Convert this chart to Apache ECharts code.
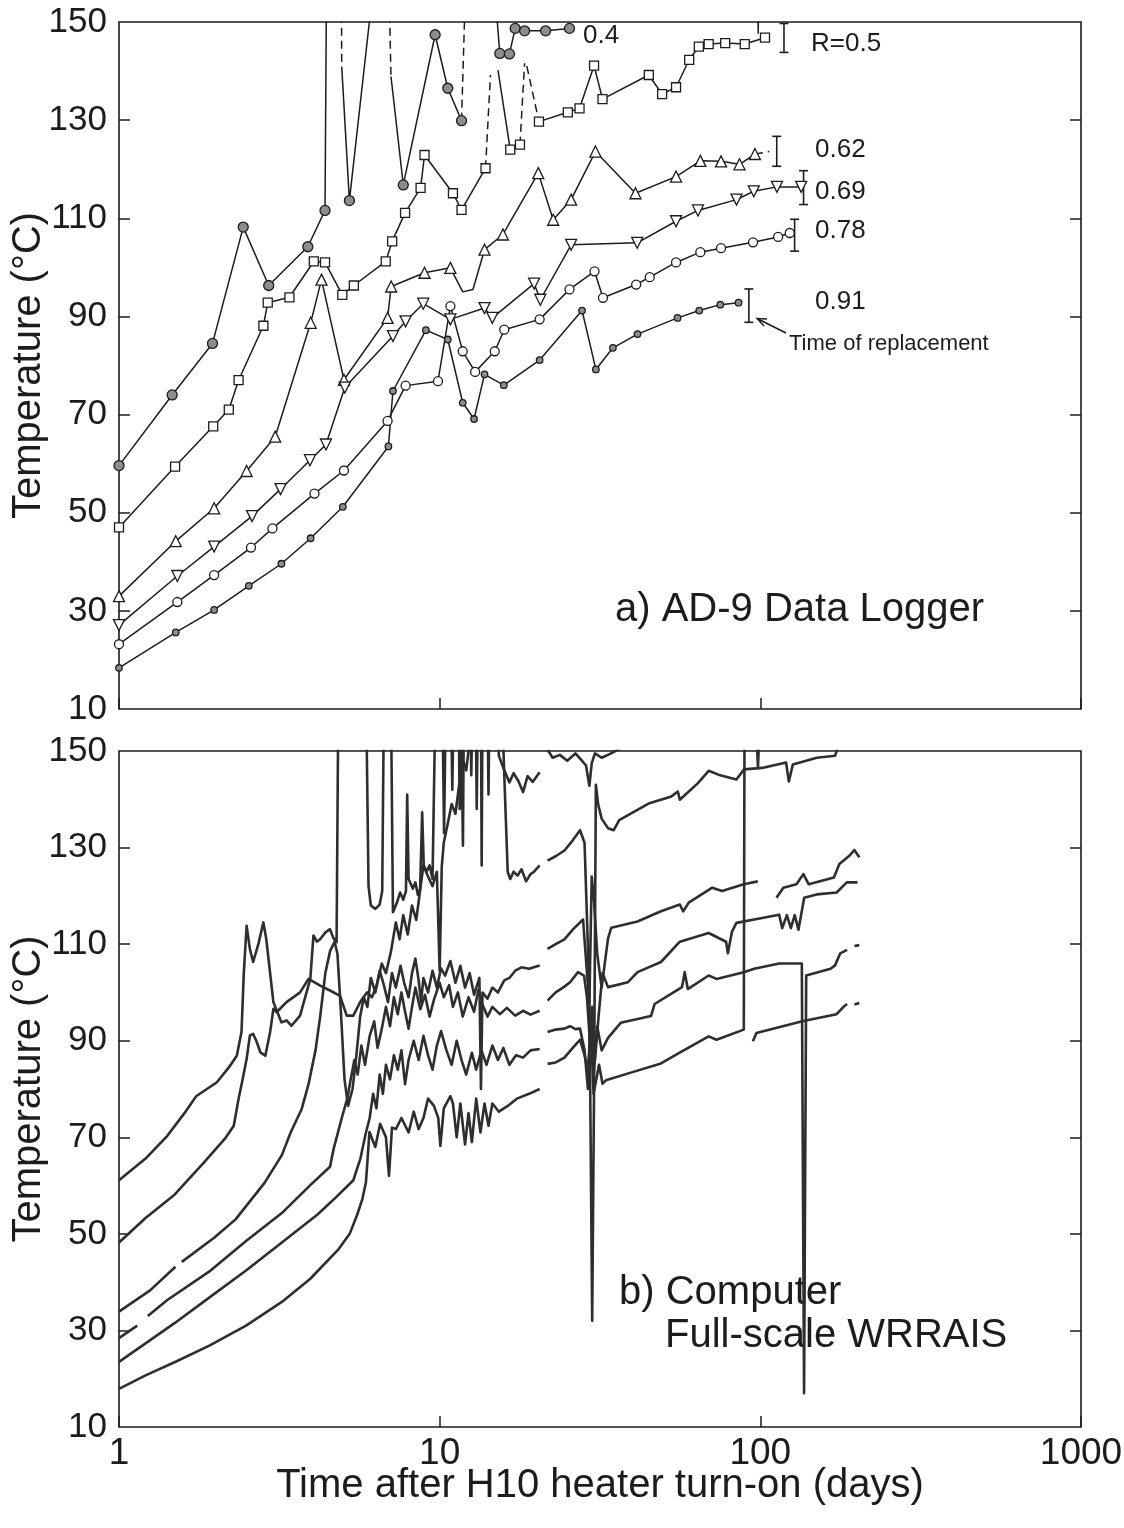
<!DOCTYPE html>
<html>
<head>
<meta charset="utf-8">
<script src="https://cdn.jsdelivr.net/npm/echarts@6/dist/echarts.min.js"></script>
<style>
  html, body { margin: 0; padding: 0; background: #fff; }
  #chart { width: 1124px; height: 1528px; }
</style>
</head>
<body>
<div id="chart"></div>
<script>
// ---------- axis ticks ----------
const tempLabels = [10, 30, 50, 70, 90, 110, 130, 150];
const tempTicks = [30, 50, 70, 90, 110, 130];

// ---------- (a) AD-9 data logger: readings [days, °C] ----------
const r04Logger = [[1,59.6],[1.465,74.0],[1.957,84.5],[2.44,108.2],[2.93,96.3],[3.88,104.2],[4.39,111.6],[5.23,113.6],[7.7,116.8],[9.68,147.4],[10.6,136.5],[11.7,129.9],[15.4,143.6],[16.5,143.5],[17.2,148.7],[18.4,148.2],[21.4,148.2],[25.4,148.7]];
// off-scale excursions and pen lifts of the same trace ('-' = break)
const r04LoggerBreaks = [[4.45,170],[4.7,'-'],[4.95,140.9],[6.53,170],[6.7,'-'],[7.05,138.9],[11.9,'-'],[14.3,170],[26,'-'],[98,160],[98.5,147.6],[99,160]];
const r04LoggerDashed = [[4.93,170],[4.95,140.9],[5,'-'],[6.88,170],[7.05,138.9],[7.2,'-'],[11.7,129.9],[12.2,170]];

const r05Logger = [[1,47.0],[1.496,59.4],[1.967,67.6],[2.2,71.0],[2.36,77.0],[2.82,88.1],[2.91,92.8],[3.4,93.9],[4.05,101.2],[4.39,101.0],[4.97,94.4],[5.4,96.3],[6.79,101.2],[7.11,105.3],[7.8,111.1],[8.72,116.2],[8.97,122.9],[11.0,115.1],[11.7,111.7],[13.9,120.2],[16.6,124.0],[17.8,125.0],[20.4,129.7],[25.1,131.6],[27.3,132.4],[30.3,141.1],[32.2,134.3],[44.9,139.2],[49.4,135.3],[54.6,136.7],[60.0,142.3],[64.3,145.0],[69.0,145.5],[77.7,145.7],[89.4,145.5],[103.4,146.8]];
const r05LoggerBreaks = [[14.6,'-'],[15.2,140.2],[19,'-']];
const r05LoggerDashed = [[13.9,120.2],[14.4,139.2],[14.8,'-'],[17.8,125.0],[18.4,141.6],[18.55,'-'],[18.7,141.0],[20.4,129.7]];

const r062Logger = [[1,33.0],[1.503,44.2],[1.98,50.9],[2.5,58.5],[3.07,65.5],[3.96,88.7],[4.28,97.5],[5.03,77.1],[6.88,89.7],[7.06,96.1],[8.97,98.9],[10.8,99.9],[13.8,103.6],[15.75,106.7],[20.3,119.2],[22.6,109.7],[25.7,113.8],[30.6,123.6],[40.8,115.1],[54.6,118.5],[65.0,121.7],[75.4,121.6],[86.1,121.0],[96.2,123.1]];
const r062LoggerBreaks = [[11.8,95.0],[12.7,95.5]];
const r062LoggerDashed = [[96.2,123.1],[106.6,123.6]];

const r069Logger = [[1,27.1],[1.52,37.1],[1.98,43.1],[2.6,49.3],[3.19,54.8],[3.94,60.7],[4.42,63.9],[5.06,75.5],[7.15,86.0],[7.83,89.0],[8.89,92.6],[10.8,89.4],[13.8,91.7],[14.6,89.7],[19.7,96.7],[20.6,93.4],[25.7,104.6],[41.3,105.0],[54.6,109.4],[63.9,111.6],[84.3,113.8],[95.4,115.5],[112.7,116.4],[134.1,116.4]];

const r078Logger = [[1,23.2],[1.52,31.8],[1.98,37.3],[2.58,42.9],[3.01,46.8],[4.07,53.9],[5.03,58.6],[6.88,68.7],[7.83,75.9],[9.88,76.8],[10.8,92.1],[11.8,82.9],[12.9,78.7],[14.85,82.9],[15.9,87.3],[20.5,89.4],[25.4,95.5],[30.4,99.2],[32.3,93.8],[41.0,96.5],[45.2,98.0],[54.6,101.0],[65.0,103.1],[75.4,103.9],[94.9,105.1],[113.6,106.2],[123.5,107.0]];

const r091Logger = [[1,18.4],[1.503,25.6],[1.98,30.2],[2.54,35.1],[3.21,39.6],[3.96,44.8],[4.99,51.2],[6.92,63.5],[7.15,74.8],[9.06,87.2],[10.6,85.3],[11.8,72.4],[12.8,69.1],[13.8,78.2],[15.85,76.0],[20.5,81.1],[27.8,91.2],[30.7,79.2],[34.7,83.6],[41.4,86.4],[55.2,89.7],[64.5,91.2],[75.0,92.4],[85.5,92.8]];

// time of replacement: [days, low °C, high °C]
const replacementBars = [[118.5,143.8,149.7],[112.5,120.6,126.7],[136.4,112.8,119.7],[127.9,103.3,109.8],[92.1,88.8,95.6]];

// ---------- (b) computer, full-scale WRRAIS: [days, °C] ----------
const r04Computer = [[1,61.1],[1.21,65.6],[1.415,70.3],[1.6,75],[1.74,78.5],[2.02,81.4],[2.22,84.8],[2.33,86.9],[2.41,91.8],[2.45,104],[2.5,113.8],[2.56,109],[2.62,106.3],[2.72,110],[2.82,114.5],[2.88,111],[3.03,98],[3.21,93.8],[3.33,94.2],[3.45,93.1],[3.67,95.2],[3.95,102.8],[4.04,111.8],[4.14,110.5],[4.24,111],[4.4,112.4],[4.55,113.1],[4.66,111.3],[4.77,110.4],[4.83,160],[5.9,160],[6.0,122],[6.1,118],[6.3,117.3],[6.5,118.2],[6.62,121],[6.7,160],[7.05,160],[7.15,116.6],[7.35,118.5],[7.53,120.7],[7.7,119.2],[7.85,121],[7.92,141],[8.0,123.5],[8.25,121.5],[8.4,122.8],[8.55,120.2],[8.69,121.4],[8.82,137.3],[8.92,126.3],[9.1,125],[9.3,126.3],[9.5,123.5],[9.7,160],[10.2,160],[10.32,133],[10.45,160],[10.85,160],[10.95,142],[11.05,160],[11.45,160],[11.55,138],[11.65,160],[11.75,160],[11.82,130.4],[11.9,160],[12.45,160],[12.55,145],[12.65,160],[12.95,160],[13.05,138],[13.15,160],[13.45,160],[13.52,126.3],[13.6,160],[14.1,160],[14.2,141],[14.3,160],[15.1,160],[15.3,149],[15.9,146],[16.5,143.5],[17.0,145.4],[17.6,143.8],[18.2,141.5],[18.8,144.8],[19.5,143.6],[20.5,145.6],[21.0,'-'],[21.7,150.3],[22.5,148.6],[23.7,149.2],[25,148],[26.5,149.5],[27.6,148.2],[28.6,147],[29.3,142.8],[29.8,147.5],[30.5,149.5],[32,148.6],[34,149.4],[36.5,150.5],[40,156],[97,156],[98.3,146.5],[99.6,156],[110,158]];

const r05Computer = [[1,48.2],[1.21,53.3],[1.49,58.1],[1.83,64.6],[2.14,69.7],[2.28,72.4],[2.36,78],[2.43,82],[2.5,86.2],[2.56,91.1],[2.62,91.4],[2.68,90],[2.76,87.6],[2.86,86.9],[2.96,91.8],[3.03,96.6],[3.1,95.9],[3.33,98],[3.67,100],[3.9,102.8],[4.24,101.4],[4.55,100.4],[4.89,99.3],[5.13,95.2],[5.38,95.2],[5.65,98],[5.93,100],[6.15,99],[6.36,101.4],[6.6,106],[6.8,104],[7.05,108.5],[7.3,114.5],[7.5,111],[7.7,116],[7.95,112],[8.2,118],[8.45,115],[8.7,121.4],[8.9,126.3],[9.2,124],[9.5,122],[9.8,125],[10.0,104.5],[10.15,126],[10.3,131],[10.6,135],[10.9,139],[11.2,137],[11.5,143],[11.8,148.3],[12.1,146],[12.4,152],[13.0,156],[15.7,156],[16.0,140],[16.3,125],[16.6,123.5],[17.0,125],[17.5,124.2],[18.0,125.5],[18.6,123],[19.2,124.5],[19.7,125],[20.5,126.3],[21.0,'-'],[21.7,127.3],[23,128.2],[24.5,129.4],[26,131.5],[27.4,133.6],[28.3,131],[29.3,100],[29.9,32],[30.3,80],[30.7,143],[31.2,139],[32,136],[33.5,134],[34.9,133.6],[36.3,135.7],[45.1,139.2],[52.8,140.6],[55.3,141.6],[56.1,139.9],[64,143.4],[69,145.9],[74,145.1],[84.2,144.1],[89,146.2],[101.3,146.5],[120.3,147.6],[122.7,143.7],[126.3,147.2],[150,148.6],[171,149],[177,152]];

const r062Computer = [[1,33.9],[1.25,38.3],[1.5,43.2],[1.53,'-'],[1.57,44.2],[1.98,49.2],[2.31,53],[2.84,60.5],[3.22,66.3],[3.43,71],[3.71,75.8],[3.9,81],[4.1,88],[4.24,95],[4.4,104],[4.55,108.5],[4.7,110.5],[4.8,108],[4.92,96],[5.05,82],[5.18,76.5],[5.35,80],[5.5,87],[5.65,95],[5.8,99],[5.95,97],[6.1,103],[6.3,100],[6.5,104.5],[6.7,101.5],[6.9,98],[7.1,104],[7.3,101],[7.55,105.5],[7.75,102],[8.0,99],[8.2,104],[8.4,107],[8.6,102.5],[8.75,98],[8.9,103],[9.2,100],[9.5,104.5],[9.8,101],[10.1,105],[10.4,103.5],[10.8,106.5],[11.2,102],[11.6,105.5],[12.0,101],[12.4,104],[12.8,99.5],[13.3,103],[13.45,80],[13.6,100],[14.1,98.7],[14.6,101],[15.2,100],[15.9,102.5],[16.5,103],[17.2,104.5],[18,105.2],[19,104.9],[20.5,105.6],[21,'-'],[21.7,109],[23,110],[24.5,111],[26,113],[28,115.1],[28.8,104],[29.3,98],[29.8,124],[30.3,119],[31,108],[32,101],[33.5,111.2],[34.3,113.4],[41.4,114.7],[49,116.8],[56.1,118.2],[57.5,116.8],[59.8,118.6],[70.8,121.7],[76,121],[88.8,122.4],[98.2,123],[105,'-'],[112.3,119.6],[118,121.7],[129.6,122.4],[136.2,124.5],[141.6,122.4],[169.6,123.8],[176.4,126.6],[189.4,128.3],[196.4,129.5],[203.6,128]];

const r069Computer = [[1,28.4],[1.14,31],[1.18,'-'],[1.23,33],[1.415,36.3],[1.93,42.4],[2.49,48.5],[3.22,54.3],[3.95,60.1],[4.55,63.9],[4.67,67.6],[4.97,74.4],[5.15,78],[5.28,82],[5.42,86],[5.55,83],[5.7,89],[5.85,85],[6.05,91],[6.25,94],[6.4,88.5],[6.6,92.5],[6.8,97],[7.0,93],[7.2,99],[7.4,95.5],[7.6,100],[7.8,96],[8.0,92.5],[8.2,97],[8.4,101],[8.7,96.5],[9.0,99.5],[9.3,95],[9.6,98.5],[10.0,102],[10.3,99],[10.7,101.5],[11.0,97],[11.4,100],[11.8,95],[12.3,99],[12.8,96],[13.2,100.5],[13.6,97.5],[14.1,95],[14.6,97],[15.4,95.5],[16.2,96.8],[17.2,95.2],[18.2,96.2],[19.2,95.4],[20.5,96.2],[21,'-'],[21.7,98.3],[23,100],[24.5,101.2],[25.5,102.1],[27,104.2],[28.2,103.5],[28.8,99],[29.4,90],[29.9,97],[30.5,86],[31.3,95],[32.2,104],[33.5,101.1],[38.6,102.1],[41.4,104.2],[49,106.3],[56.1,110.5],[69,112.3],[78.2,110.5],[79.2,108.1],[81.6,112.6],[84.2,114.4],[101.3,115.4],[114.5,116.1],[117,113.3],[121,116],[124.5,113.3],[128,116],[131.5,113],[137,119.6],[150,120.3],[173,120.7],[186,122.8],[201,122.8]];

const r078Computer = [[1,23.5],[1.49,31.5],[1.93,37],[2.49,42.4],[3.22,48.2],[4.16,54],[4.72,57.4],[5.38,61.1],[5.66,65.6],[5.89,71],[6.05,74],[6.2,79],[6.35,76],[6.5,83],[6.65,79],[6.8,85],[7.0,82],[7.2,87],[7.4,84],[7.6,88],[7.8,81],[8.0,86],[8.3,90],[8.6,86],[8.9,91],[9.2,87],[9.5,84],[9.8,89],[10.1,92],[10.5,88],[10.9,85],[11.3,90],[11.7,86],[12.1,83],[12.6,87.5],[13.0,84],[13.5,88],[14,85],[14.6,89],[15.2,86],[15.8,88.5],[16.5,85],[17.3,87],[18.2,86.5],[19.2,88],[20.5,88.3],[21,'-'],[21.7,91.8],[23,92.3],[24.5,92.5],[25.5,93],[26.5,92.4],[27.4,92.5],[28.3,88],[29.0,80],[29.6,95],[30.2,83],[31,93],[32,88],[33.5,90.6],[36.7,93.7],[45.6,95.1],[46.8,97.6],[57,101.1],[58.1,104.2],[59.4,100.7],[69,103.5],[73,102.8],[88.8,104.2],[95.7,104.9],[114.5,106],[134.7,106],[136.2,106],[136.9,17],[139,103.5],[165.6,104.9],[171,105.6],[177.5,108.1],[186.5,108.8],[192,'-'],[196.5,109.6],[203.6,109.8]];

const r091Computer = [[1,17.9],[1.21,20.7],[1.49,23.4],[1.92,26.9],[2.49,31],[3.22,35.9],[3.95,40.7],[4.85,46.9],[5.24,50],[5.52,53.8],[5.74,57.2],[5.89,60.7],[5.97,66.2],[6.04,71.1],[6.3,68],[6.52,72.8],[6.8,70],[6.95,62],[7.1,72],[7.3,71.7],[7.6,74],[8.0,71],[8.3,75.3],[8.6,71.7],[8.9,74],[9.2,78],[9.6,76.5],[9.9,74],[10.05,68.2],[10.3,76],[10.8,78.5],[11.0,77],[11.3,70],[11.6,77],[12.0,68.5],[12.3,75],[12.6,69],[13.0,78],[13.4,71],[13.8,77],[14.2,72.4],[14.6,77],[15.3,75.3],[16.3,76.5],[17.4,78],[19.0,79],[20.5,80],[21,'-'],[21.7,85.2],[23,85.5],[24.5,86.5],[26,88.5],[27.4,90.2],[28.3,87],[29,84],[29.6,93],[30.2,79],[31.4,85],[32.2,81.1],[33.0,81.8],[40.4,83.6],[49,85.3],[55.5,87.4],[69,90.9],[73,90.2],[88.8,92.3],[89.3,160],[90,'-'],[94.8,89.9],[97.2,91.6],[136.2,94.1],[173,95.5],[183,97.2],[186.5,97.6],[192,'-'],[196.5,97.5],[203.6,97.8]];

// ---------- styling ----------
const FONT = '"Liberation Sans", Arial, sans-serif';
const INK = '#1c1c1c';

function mergePath(readings, breaks) {
  return readings.concat(breaks).sort((a, b) => a[0] - b[0]);
}

function loggerLine(data, dashed) {
  return {
    type: 'line', xAxisIndex: 0, yAxisIndex: 0, data: data,
    showSymbol: false, clip: true, connectNulls: false, silent: true,
    lineStyle: { color: INK, width: 1.5, type: dashed ? [8, 5] : 'solid' },
    z: 2
  };
}

function loggerMarks(data, symbol, size, fill, rotate) {
  return {
    type: 'scatter', xAxisIndex: 0, yAxisIndex: 0, data: data,
    symbol: symbol, symbolSize: size, symbolRotate: rotate || 0, silent: true,
    itemStyle: { color: fill, borderColor: INK, borderWidth: 1.3, opacity: 1 },
    z: 3
  };
}

function computerLine(data) {
  return {
    type: 'line', xAxisIndex: 1, yAxisIndex: 2, data: data,
    showSymbol: false, clip: true, connectNulls: false, silent: true,
    lineStyle: { color: '#2e2e2e', width: 2.6, join: 'round' },
    z: 2
  };
}

function dayAxis(gi, labelled) {
  return {
    gridIndex: gi, type: 'log', logBase: 10, min: 1, max: 1000,
    axisLine: { show: false },
    axisTick: { show: true, inside: true, length: 11, lineStyle: { color: INK, width: 1.5 } },
    axisLabel: {
      show: labelled, fontSize: 37, margin: 8, color: INK, fontFamily: FONT,
      formatter: v => String(Math.round(v))
    },
    splitLine: { show: false }, minorTick: { show: false },
    name: labelled ? 'Time after H10 heater turn-on (days)' : '',
    nameLocation: 'middle', nameGap: 39, nameMoveOverlap: false,
    nameTextStyle: { fontSize: 40, color: INK, fontFamily: FONT }
  };
}

function tempAxis(gi, right) {
  return {
    gridIndex: gi, type: 'value', min: 10, max: 150, position: right ? 'right' : 'left',
    axisLine: { show: false },
    axisTick: { show: true, inside: true, length: 11, customValues: tempTicks, lineStyle: { color: INK, width: 1.5 } },
    axisLabel: { show: !right, customValues: tempLabels, fontSize: 35, margin: 12, color: INK, fontFamily: FONT },
    splitLine: { show: false },
    name: right ? '' : 'Temperature (°C)', nameLocation: 'middle', nameGap: 70, nameMoveOverlap: false,
    nameTextStyle: { fontSize: 40, color: INK, fontFamily: FONT }
  };
}

function label(text, x, y, size) {
  return {
    type: 'text', x: x, y: y, silent: true,
    style: { text: text, fontSize: size, fontFamily: FONT, fill: INK, align: 'left', verticalAlign: 'middle' }
  };
}

const chart = echarts.init(document.getElementById('chart'), null, { renderer: 'canvas' });

const gridBase = { left: 119, width: 962, show: true, borderColor: INK, borderWidth: 1.6, backgroundColor: 'transparent', containLabel: false, outerBoundsMode: 'none' };

chart.setOption({
  animation: false,
  backgroundColor: '#ffffff',
  textStyle: { fontFamily: FONT },
  grid: [
    Object.assign({ top: 22, height: 687 }, gridBase),
    Object.assign({ top: 751, height: 676 }, gridBase)
  ],
  xAxis: [dayAxis(0, false), dayAxis(1, true)],
  yAxis: [tempAxis(0, false), tempAxis(0, true), tempAxis(1, false), tempAxis(1, true)],
  series: [
    // (a) data logger
    loggerLine(mergePath(r04Logger, r04LoggerBreaks), false),
    loggerLine(r04LoggerDashed, true),
    loggerLine(mergePath(r05Logger, r05LoggerBreaks), false),
    loggerLine(r05LoggerDashed, true),
    loggerLine(mergePath(r062Logger, r062LoggerBreaks), false),
    loggerLine(r062LoggerDashed, true),
    loggerLine(r069Logger, false),
    loggerLine(r078Logger, false),
    loggerLine(r091Logger, false),
    loggerMarks(r04Logger, 'circle', 10, '#8d8d8d'),
    loggerMarks(r05Logger, 'rect', 9, '#ffffff'),
    loggerMarks(r062Logger, 'triangle', 11, '#ffffff'),
    loggerMarks(r069Logger, 'triangle', 11, '#ffffff', 180),
    loggerMarks(r078Logger, 'circle', 9, '#ffffff'),
    loggerMarks(r091Logger, 'circle', 6.5, '#8d8d8d'),
    {
      type: 'custom', xAxisIndex: 0, yAxisIndex: 0, data: replacementBars, silent: true,
      encode: { x: 0, y: [1, 2] },
      renderItem: function (params, api) {
        const d = api.value(0);
        const lo = api.coord([d, api.value(1)]);
        const hi = api.coord([d, api.value(2)]);
        const w = 4.5;
        const st = { stroke: INK, lineWidth: 1.6 };
        return {
          type: 'group', children: [
            { type: 'line', shape: { x1: lo[0], y1: lo[1], x2: hi[0], y2: hi[1] }, style: st },
            { type: 'line', shape: { x1: lo[0] - w, y1: lo[1], x2: lo[0] + w, y2: lo[1] }, style: st },
            { type: 'line', shape: { x1: hi[0] - w, y1: hi[1], x2: hi[0] + w, y2: hi[1] }, style: st }
          ]
        };
      },
      z: 3
    },
    // (b) computer
    computerLine(r04Computer),
    computerLine(r05Computer),
    computerLine(r062Computer),
    computerLine(r069Computer),
    computerLine(r078Computer),
    computerLine(r091Computer)
  ],
  graphic: [
    label('0.4', 583, 36, 26),
    label('R=0.5', 811, 44, 26),
    label('0.62', 815, 150, 26),
    label('0.69', 815, 192, 26),
    label('0.78', 815, 231, 26),
    label('0.91', 815, 302, 26),
    label('Time of replacement', 789, 344, 22),
    { type: 'polyline', silent: true, shape: { points: [[786, 333], [758, 319]] }, style: { stroke: INK, lineWidth: 1.4, fill: null } },
    { type: 'polyline', silent: true, shape: { points: [[767, 319], [757, 318.5], [764, 326]] }, style: { stroke: INK, lineWidth: 1.4, fill: null } },
    label('a) AD-9 Data Logger', 615, 610, 40),
    label('b) Computer', 619, 1293, 40),
    label('Full-scale WRRAIS', 665, 1336, 40)
  ]
});
</script>
</body>
</html>
